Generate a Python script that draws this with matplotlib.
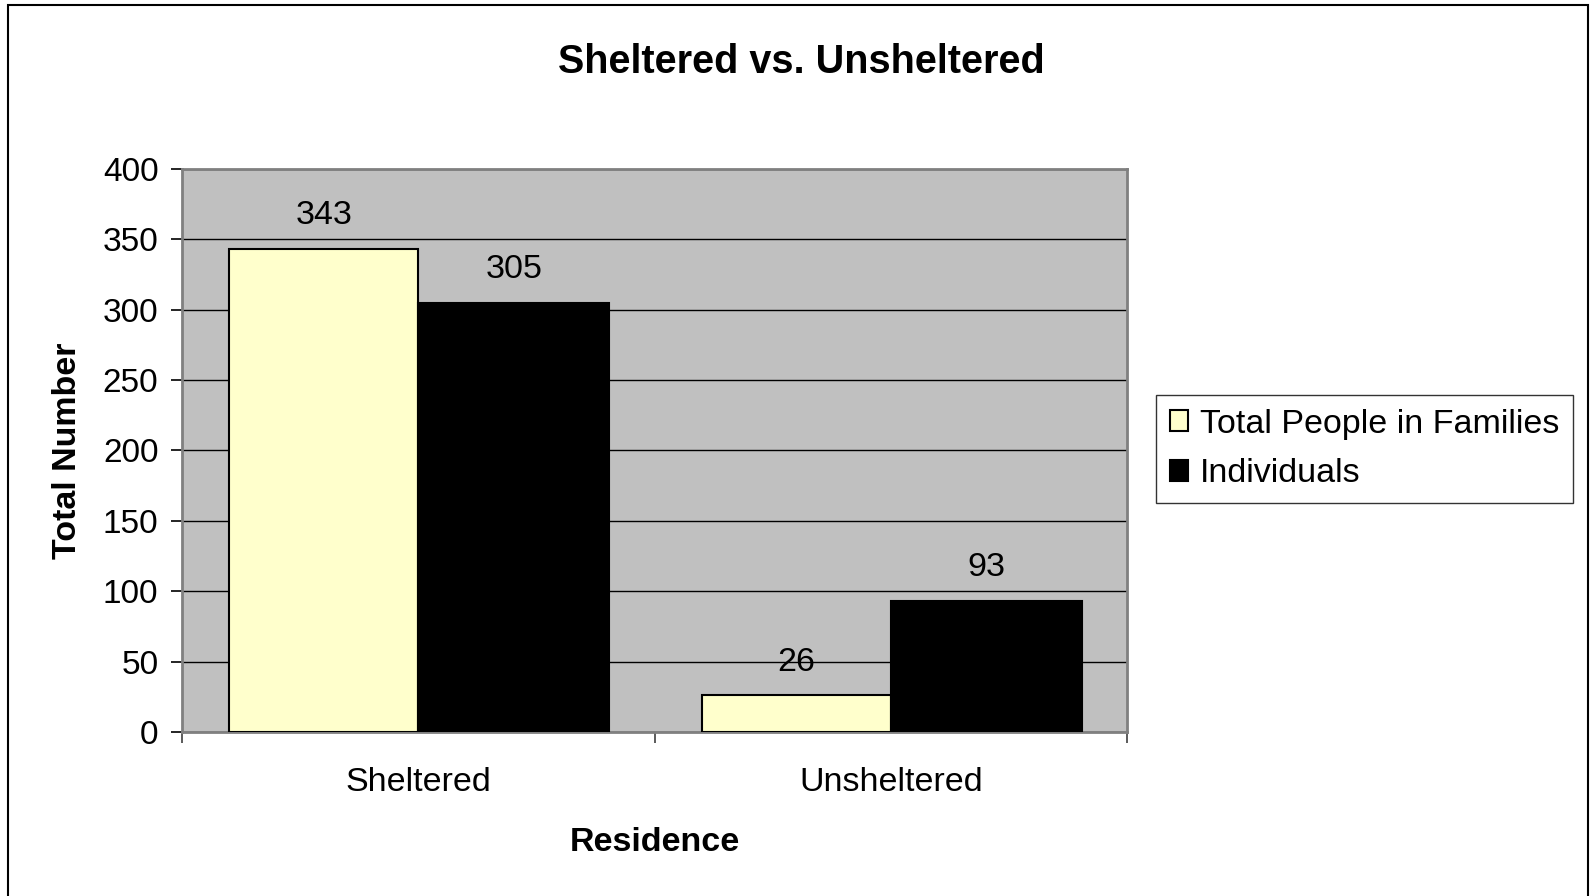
import matplotlib
matplotlib.use("Agg")
import matplotlib.pyplot as plt
from matplotlib.patches import Rectangle
import numpy as np

categories = ["Sheltered", "Unsheltered"]
series_names = ["Total People in Families", "Individuals"]
families = [343, 26]
individuals = [305, 93]
yticks = [0, 50, 100, 150, 200, 250, 300, 350, 400]

plt.rcParams['font.family'] = ['Liberation Sans', 'DejaVu Sans']

W, H = 1590, 896
fig = plt.figure(figsize=(W / 100, H / 100), dpi=100)
fig.patch.set_facecolor('white')

# figure border
fig.add_artist(Rectangle((8 / W, -0.01), (1588 - 8) / W, 1 - 5 / H + 0.01,
                         transform=fig.transFigure, fill=False,
                         edgecolor='black', linewidth=1.5, zorder=10))

ax_l, ax_r, ax_t, ax_b = 182, 1127, 169, 732
ax = fig.add_axes([ax_l / W, 1 - ax_b / H, (ax_r - ax_l) / W, (ax_b - ax_t) / H])
ax.set_facecolor('#C0C0C0')

x = np.arange(len(categories))
bw = 0.40
b1 = ax.bar(x - bw / 2, families, width=bw, color='#FFFFCC', edgecolor='black',
            linewidth=1.5, label=series_names[0], zorder=3)
b2 = ax.bar(x + bw / 2 + 0.002, individuals, width=bw + 0.004, color='black', edgecolor='black',
            linewidth=1.5, label=series_names[1], zorder=3)

for bars in (b1, b2):
    for r in bars:
        ax.annotate(f"{int(r.get_height())}",
                    (r.get_x() + r.get_width() / 2, r.get_height()),
                    xytext=(0, 24), textcoords='offset points',
                    ha='center', va='center', fontsize=24.5, color='black')

ax.set_xlim(-0.5, 1.5)
ax.set_ylim(0, 400)
ax.set_yticks(yticks)
ax.yaxis.grid(True, color='black', linewidth=1.0, zorder=1)
ax.set_axisbelow(True)

ax.set_xticks(x)
ax.set_xticklabels(categories, fontsize=24.5)
ax.set_xticks([-0.5, 0.5, 1.5], minor=True)
ax.tick_params(axis='x', which='major', length=0, pad=25)
ax.tick_params(axis='x', which='minor', length=8, width=1.2, color='#404040', direction='out')
ax.tick_params(axis='y', labelsize=24, length=8, width=1.2, direction='out', pad=9)

for s in ax.spines.values():
    s.set_color('#808080')
    s.set_linewidth(2)

ax.set_xlabel("Residence", fontsize=24.5, fontweight='bold', labelpad=21)
ax.set_ylabel("Total Number", fontsize=24.5, fontweight='bold', labelpad=14)

fig.text(801 / W, 1 - 62 / H, "Sheltered vs. Unsheltered", ha='center', va='center',
         fontsize=28.5, fontweight='bold')

leg = fig.legend(handles=[b1, b2], labels=series_names,
                 loc='upper left', bbox_to_anchor=(1156 / W, 1 - 395 / H),
                 frameon=True, fancybox=False, fontsize=24.5,
                 handlelength=0.55, handleheight=0.55, handletextpad=0.35,
                 borderpad=0.4, labelspacing=0.55, borderaxespad=0)
leg.get_frame().set_edgecolor('black')
leg.get_frame().set_linewidth(1.0)

fig.savefig("out.png", dpi=100, facecolor='white')
